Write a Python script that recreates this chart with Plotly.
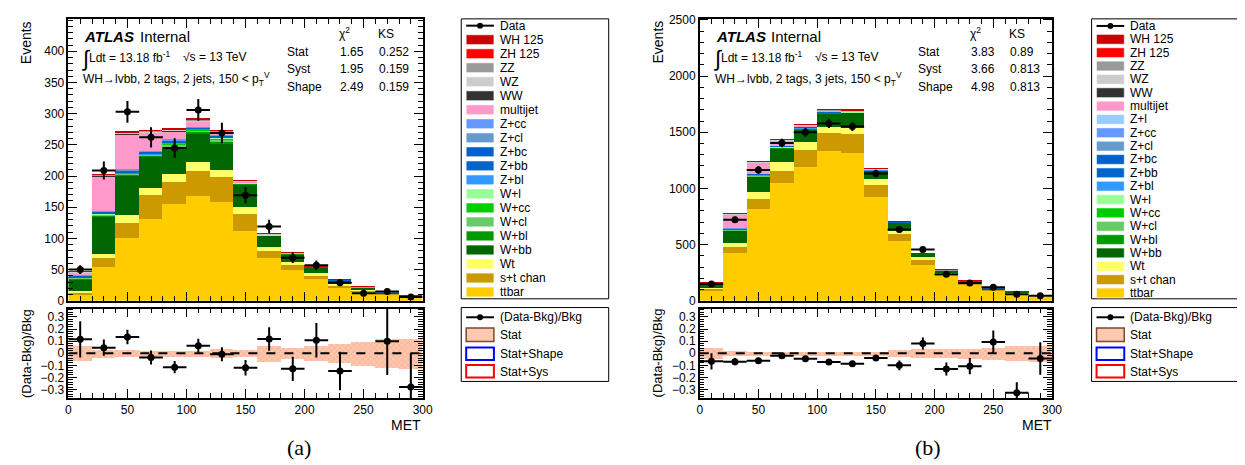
import plotly.graph_objects as go
import math

# ---------------- data ----------------
bin_edges = [0, 20, 40, 60, 80, 100, 120, 140, 160, 180, 200, 220, 240, 260, 280, 300]
bin_centers = [10, 30, 50, 70, 90, 110, 130, 150, 170, 190, 210, 230, 250, 270, 290]
half_width = [10] * 15

# 2 tags, 2 jets (panel a)
ttbar_2j = [11, 55, 101, 131, 155, 168, 158, 112, 69, 49, 35, 22, 15, 10, 6.5]
stchan_2j = [2, 14, 24, 39, 36, 40, 40, 27, 11.5, 8.5, 5, 2.5, 2, 1.5, 0.8]
Wt_2j = [2.5, 6, 13, 11, 13, 14, 12, 11, 6, 5, 4, 2.5, 2, 1, 0.5]
Wbb_2j = [18.5, 60, 63, 50, 41, 46, 42, 37, 18, 12.5, 9, 5, 3, 1.5, 0.5]
Wbl_2j = [2, 2, 2, 2, 3, 4, 4, 1, 0.5, 0.5, 0.4, 0.3, 0.2, 0.1, 0.1]
Wcl_2j = [1, 1, 1.5, 1, 2, 2, 3, 0.5, 0.3, 0.3, 0.2, 0.2, 0.1, 0.05, 0.05]
Wcc_2j = [0.5, 1, 1, 1, 2, 2, 2, 0.5, 0.3, 0.2, 0.2, 0.2, 0.1, 0.05, 0.05]
Wl_2j = [0.3, 0.5, 0.5, 0.3, 0.5, 0.5, 0.5, 0.2, 0.1, 0.1, 0.1, 0.1, 0.05, 0.05, 0.05]
Zbl_2j = [0.3, 0.5, 0.5, 0.5, 0.5, 0.3, 0.5, 0.2, 0.1, 0.1, 0.1, 0.1, 0.05, 0.05, 0.05]
Zbb_2j = [2.5, 2.5, 2.5, 3, 3.5, 1.5, 2, 0.5, 0.3, 0.3, 0.3, 0.6, 0.2, 0.1, 0.05]
Zbc_2j = [0.5, 0.5, 0.5, 0.5, 0.5, 0.3, 0.5, 0.1, 0.1, 0.05, 0.05, 0.1, 0.05, 0.02, 0.02]
Zcl_2j = [0.3, 0.5, 0.5, 0.5, 0.7, 0.3, 0.5, 0.2, 0.1, 0.05, 0.05, 0.1, 0.05, 0.02, 0.02]
Zcc_2j = [0.5, 0.5, 1, 1, 1.5, 0.5, 1, 0.2, 0.1, 0.05, 0.05, 0.1, 0.05, 0.02, 0.02]
multijet_2j = [4, 56, 56.5, 29.5, 13, 8, 4, 1, 0.5, 0.5, 1, 0.2, 0.3, 0.2, 0.2]
WW_2j = [0.1, 0.3, 0.3, 0.3, 0.3, 0.3, 0.3, 0.2, 0.1, 0.05, 0.05, 0.05, 0.02, 0.02, 0.02]
WZ_2j = [0.5, 1.2, 1.5, 1.7, 2, 2, 1.5, 0.8, 0.5, 0.4, 0.3, 0.2, 0.1, 0.05, 0.05]
ZZ_2j = [0.2, 0.5, 0.5, 0.6, 0.8, 0.8, 0.8, 0.3, 0.2, 0.1, 0.1, 0.1, 0.05, 0.02, 0.02]
ZH_2j = [0.1, 0.3, 0.3, 0.3, 0.3, 0.3, 0.3, 0.1, 0.1, 0.05, 0.05, 0.05, 0.02, 0.02, 0.02]
WH_2j = [0.2, 0.8, 0.8, 0.8, 1, 1.2, 1, 0.5, 0.3, 0.2, 0.15, 0.1, 0.05, 0.03, 0.03]
data_2j = [50, 209, 303, 262, 245, 306, 269, 169, 119, 69, 57, 29, 12, 15, 6]

ratio_2j = [0.115, 0.046, 0.134, -0.035, -0.115, 0.062, -0.008, -0.12, 0.118, -0.129, 0.107, -0.147, None, 0.099, -0.28]
ratio_err_2j = [0.15, 0.067, 0.06, 0.058, 0.05, 0.058, 0.058, 0.064, 0.098, 0.1, 0.143, 0.16, None, 0.28, 0.28]
stat_2j = [0.06, 0.033, 0.027, 0.025, 0.025, 0.025, 0.035, 0.03, 0.067, 0.047, 0.06, 0.077, 0.1, 0.12, 0.125]

# 2 tags, 3 jets (panel b)
ttbar_3j = [87, 427, 822, 1047, 1191, 1335, 1318, 923, 534, 317, 222, 144, 90, 63, 40]
stchan_3j = [20, 55, 86, 107, 150, 162, 167, 109, 63, 43, 20, 13, 9, 6, 3]
Wt_3j = [8, 37, 64, 83, 78, 52, 58, 49, 29, 29, 10, 6, 5, 4, 1.5]
Wbb_3j = [38, 107, 133, 124, 109, 121, 130, 78, 70, 30, 18, 12, 9, 9, 1.5]
Wbl_3j = [2, 4, 6, 5, 5, 4, 4, 3, 2, 1, 1, 0.5, 0.5, 0.5, 0.2]
Wcl_3j = [1, 2, 3, 2, 2, 2, 2, 1, 1, 0.5, 0.5, 0.3, 0.3, 0.3, 0.1]
Wcc_3j = [1, 2, 3, 2, 2, 2, 2, 1, 1, 0.5, 0.5, 0.3, 0.3, 0.3, 0.1]
Wl_3j = [0.5, 1, 2, 1, 1, 1, 1, 1, 0.5, 0.3, 0.2, 0.2, 0.2, 0.2, 0.1]
Zbl_3j = [0.3, 1, 2, 2, 2, 1, 1, 1, 0.5, 0.3, 0.2, 0.2, 0.2, 0.2, 0.1]
Zbb_3j = [1, 8, 8, 8, 8, 5, 3, 2, 1.5, 1, 0.5, 0.5, 0.5, 0.5, 0.2]
Zbc_3j = [0.2, 2, 2, 2, 2, 1, 1, 0.5, 0.3, 0.2, 0.1, 0.1, 0.1, 0.1, 0.05]
Zcl_3j = [0.2, 2, 1, 1, 1, 1, 1, 0.5, 0.3, 0.2, 0.1, 0.1, 0.1, 0.1, 0.05]
Zcc_3j = [0.2, 1, 1, 1, 1, 1, 0.5, 0.5, 0.3, 0.2, 0.1, 0.1, 0.1, 0.1, 0.05]
Zl_3j = [0.1, 1, 0.5, 0.5, 0.5, 0.5, 0.5, 0.3, 0.2, 0.1, 0.1, 0.1, 0.05, 0.05, 0.05]
multijet_3j = [2, 121, 100, 45, 12, 6, 3, 2, 2, 1, 0.5, 0.5, 0.5, 0.5, 0.5]
WW_3j = [0.2, 1, 1, 1, 1, 1, 1, 0.5, 0.3, 0.2, 0.2, 0.1, 0.1, 0.1, 0.05]
WZ_3j = [0.5, 4, 4, 4, 4, 4, 3.5, 2.5, 1.5, 1, 0.8, 0.5, 0.4, 0.3, 0.1]
ZZ_3j = [0.2, 1.5, 1.5, 1.5, 1.5, 1.5, 1.5, 1, 0.5, 0.3, 0.3, 0.2, 0.1, 0.1, 0.05]
ZH_3j = [0.1, 0.5, 0.5, 0.5, 0.5, 0.5, 0.5, 0.3, 0.2, 0.1, 0.1, 0.05, 0.05, 0.05, 0.02]
WH_3j = [0.3, 2, 2.5, 2.5, 2.5, 2, 2, 1.2, 0.8, 0.5, 0.4, 0.3, 0.2, 0.2, 0.1]
data_3j = [150, 721, 1165, 1405, 1500, 1578, 1552, 1133, 634, 456, 237, 159, 121, 57, 44]

ratio_3j = [-0.067, -0.07, -0.062, -0.021, -0.045, -0.072, -0.086, -0.04, -0.1, 0.08, -0.13, -0.107, 0.094, -0.327, -0.043]
ratio_err_3j = [0.067, 0.03, 0.025, 0.025, 0.02, 0.02, 0.02, 0.025, 0.04, 0.05, 0.054, 0.067, 0.094, 0.086, 0.134]
stat_3j = [0.047, 0.022, 0.015, 0.015, 0.015, 0.015, 0.015, 0.015, 0.027, 0.035, 0.037, 0.04, 0.05, 0.06, 0.067]

# fit-quality tables
chi2_2j = ["1.65", "1.95", "2.49"]
ks_2j = ["0.252", "0.159", "0.159"]
chi2_3j = ["3.83", "3.66", "4.98"]
ks_3j = ["0.89", "0.813", "0.813"]
table_rows = ["Stat", "Syst", "Shape"]

# axis tick values
x_ticks = [0, 50, 100, 150, 200, 250, 300]
y_ticks_2j = [0, 50, 100, 150, 200, 250, 300, 350, 400]
y_ticks_3j = [0, 500, 1000, 1500, 2000, 2500]
ratio_ticks = [-0.3, -0.2, -0.1, 0, 0.1, 0.2, 0.3]

# sample names / colours (stack order bottom -> top)
sample_colors = {
    "ttbar": "#FFCC00", "s+t chan": "#CC9900", "Wt": "#FFFF66",
    "W+bb": "#006600", "W+bl": "#009900", "W+cl": "#66CC66", "W+cc": "#00CC00", "W+l": "#99FF99",
    "Z+bl": "#3399FF", "Z+bb": "#0066CC", "Z+bc": "#0062C8", "Z+cl": "#6699CC", "Z+cc": "#6699FF",
    "Z+l": "#99CCFF", "multijet": "#FF99CC", "WW": "#333333", "WZ": "#CCCCCC", "ZZ": "#999999",
    "ZH 125": "#FF0000", "WH 125": "#CC0000",
}

stack_2j = [("ttbar", ttbar_2j), ("s+t chan", stchan_2j), ("Wt", Wt_2j), ("W+bb", Wbb_2j),
            ("W+bl", Wbl_2j), ("W+cl", Wcl_2j), ("W+cc", Wcc_2j), ("W+l", Wl_2j),
            ("Z+bl", Zbl_2j), ("Z+bb", Zbb_2j), ("Z+bc", Zbc_2j), ("Z+cl", Zcl_2j), ("Z+cc", Zcc_2j),
            ("multijet", multijet_2j), ("WW", WW_2j), ("WZ", WZ_2j), ("ZZ", ZZ_2j),
            ("ZH 125", ZH_2j), ("WH 125", WH_2j)]
stack_3j = [("ttbar", ttbar_3j), ("s+t chan", stchan_3j), ("Wt", Wt_3j), ("W+bb", Wbb_3j),
            ("W+bl", Wbl_3j), ("W+cl", Wcl_3j), ("W+cc", Wcc_3j), ("W+l", Wl_3j),
            ("Z+bl", Zbl_3j), ("Z+bb", Zbb_3j), ("Z+bc", Zbc_3j), ("Z+cl", Zcl_3j), ("Z+cc", Zcc_3j),
            ("Z+l", Zl_3j), ("multijet", multijet_3j), ("WW", WW_3j), ("WZ", WZ_3j), ("ZZ", ZZ_3j),
            ("ZH 125", ZH_3j), ("WH 125", WH_3j)]

# ---------------- layout helpers ----------------
W, H = 1245, 465
FONT = "Liberation Sans, Arial, Helvetica, sans-serif"
SERIF = "Liberation Serif, DejaVu Serif, serif"


def px(x):
    return x / W


def py(y):
    return 1 - y / H


fig = go.Figure()
annotations = []
shapes = []


def ann(text, x, y, size=12, xanchor="left", yanchor="middle", **kw):
    annotations.append(dict(text=text, x=px(x), y=py(y), xref="paper", yref="paper",
                            showarrow=False, xanchor=xanchor, yanchor=yanchor,
                            font=dict(family=kw.pop("family", FONT), size=size, color="black"), **kw))


def rect(x0, y0, x1, y1, fill="rgba(0,0,0,0)", line="black", lw=1):
    shapes.append(dict(type="rect", xref="paper", yref="paper", x0=px(x0), x1=px(x1),
                       y0=py(y1), y1=py(y0), fillcolor=fill, line=dict(color=line, width=lw), layer="above"))


STAT_FILL = "rgb(252,200,176)"
STAT_FG = "rgb(255,150,110)"

panels = [
    dict(stack=stack_2j, data=data_2j, ratio=ratio_2j, rerr=ratio_err_2j, stat=stat_2j,
         xa="x", ya="y", xr="x2", yr="y2"),
    dict(stack=stack_3j, data=data_3j, ratio=ratio_3j, rerr=ratio_err_3j, stat=stat_3j,
         xa="x3", ya="y3", xr="x4", yr="y4"),
]

for p in panels:
    for name, vals in p["stack"]:
        fig.add_trace(go.Bar(x=bin_centers, y=vals, width=20, name=name,
                             marker=dict(color=sample_colors[name], line=dict(width=0)),
                             xaxis=p["xa"], yaxis=p["ya"], showlegend=False, hoverinfo="skip"))
    fig.add_trace(go.Scatter(x=bin_centers, y=p["data"], mode="markers", name="Data",
                             marker=dict(color="black", size=7),
                             error_y=dict(type="data", array=[math.sqrt(v) for v in p["data"]],
                                          color="black", thickness=2, width=0),
                             error_x=dict(type="data", array=half_width, color="black", thickness=2, width=0),
                             xaxis=p["xa"], yaxis=p["ya"], showlegend=False))
    # ratio stat band
    fig.add_trace(go.Bar(x=bin_centers, y=[2 * s for s in p["stat"]], base=[-s for s in p["stat"]],
                         width=20, marker=dict(color=STAT_FILL, line=dict(width=0),
                                               pattern=dict(shape="x", size=4, solidity=0.35,
                                                            fgcolor=STAT_FG, bgcolor=STAT_FILL)),
                         xaxis=p["xr"], yaxis=p["yr"], showlegend=False, hoverinfo="skip"))
    fig.add_trace(go.Scatter(x=bin_centers, y=p["ratio"], mode="markers",
                             marker=dict(color="black", size=7),
                             error_y=dict(type="data", array=[e if e is not None else 0 for e in p["rerr"]],
                                          color="black", thickness=2, width=0),
                             error_x=dict(type="data", array=half_width, color="black", thickness=2, width=0),
                             xaxis=p["xr"], yaxis=p["yr"], showlegend=False))
    shapes.append(dict(type="line", xref=p["xr"], yref=p["yr"], x0=0, x1=300, y0=0, y1=0,
                       line=dict(color="black", width=2, dash="dash"), layer="above"))


def axis(domain, anchor, rng, tickvals, mdtick, labels=True):
    d = dict(domain=domain, anchor=anchor, range=rng, showline=True, linecolor="black", linewidth=1.5,
             mirror="allticks", ticks="inside", ticklen=9, tickwidth=1.2, tickcolor="black",
             tickmode="array", tickvals=tickvals, showticklabels=labels, showgrid=False, zeroline=False,
             tickfont=dict(family=FONT, size=12, color="black"),
             minor=dict(ticks="inside", ticklen=5, dtick=mdtick, tick0=0, tickcolor="black",
                        tickwidth=1, showgrid=False))
    if labels:
        d["ticklabeloverflow"] = "allow"
    return d


top_y = [py(295), py(5)]
rat_y = [py(395), py(303)]
left_x = [px(58), px(416)]
right_x = [px(696), px(1052)]

layout_axes = dict(
    xaxis=axis(left_x, "y", [0, 300], x_ticks, 10, labels=False),
    yaxis=axis(top_y, "x", [0, 452], y_ticks_2j, 10),
    xaxis2=axis(left_x, "y2", [0, 300], x_ticks, 10),
    yaxis2=axis(rat_y, "x2", [-0.37, 0.37], ratio_ticks, 0.02),
    xaxis3=axis(right_x, "y3", [0, 300], x_ticks, 10, labels=False),
    yaxis3=axis(top_y, "x3", [0, 2510], y_ticks_3j, 100),
    xaxis4=axis(right_x, "y4", [0, 300], x_ticks, 10),
    yaxis4=axis(rat_y, "x4", [-0.37, 0.37], ratio_ticks, 0.02),
)

# ---------------- texts ----------------
for dx, region, chi2, ks in [(0, "2 jets", chi2_2j, ks_2j), (638, "3 jets", chi2_3j, ks_3j)]:
    ann("<b><i>ATLAS</i></b>", 72 + dx, 23, size=15)
    ann("Internal", 128 + dx, 23, size=15)
    ann("\u222b", 69 + dx, 46, size=22)
    ann("Ldt = 13.18 fb<sup>-1</sup>", 77 + dx, 44, size=12)
    ann("\u221as = 13 TeV", 172 + dx, 44, size=12)
    ann("WH\u2192lvbb, 2 tags, " + region + ", 150 < p<sub>T</sub><sup>V</sup>", 71 + dx, 67, size=12)
    ann("\u03c7<sup>2</sup>", 329 + dx, 20, size=12)
    ann("KS", 369 + dx, 21, size=12)
    for r, row in enumerate(table_rows):
        yy = 39 + 18 * r
        ann(row, 277 + dx, yy, size=12)
        ann(chi2[r], 330 + dx, yy, size=12)
        ann(ks[r], 370 + dx, yy, size=12)
    ann("Events", 16 + dx, 5, size=14, xanchor="center", yanchor="top", textangle=-90)
    ann("(Data-Bkg)/Bkg", 15 + dx, 349, size=13, xanchor="center", yanchor="middle", textangle=-90)
    ann("MET", 416 + dx, 423, size=14, xanchor="right")

ann("(a)", 291, 446, size=22, xanchor="center", family=SERIF)
ann("(b)", 927, 446, size=22, xanchor="center", family=SERIF)

# ---------------- legends (drawn manually) ----------------
legend_2j = ["Data", "WH 125", "ZH 125", "ZZ", "WZ", "WW", "multijet", "Z+cc", "Z+cl", "Z+bc",
             "Z+bb", "Z+bl", "W+l", "W+cc", "W+cl", "W+bl", "W+bb", "Wt", "s+t chan", "ttbar"]
legend_3j = ["Data", "WH 125", "ZH 125", "ZZ", "WZ", "WW", "multijet", "Z+l", "Z+cc", "Z+cl", "Z+bc",
             "Z+bb", "Z+bl", "W+l", "W+cc", "W+cl", "W+bl", "W+bb", "Wt", "s+t chan", "ttbar"]


def draw_legend(names, bx0, bx1, y_first, y_last, sx0, sx1, tx):
    rect(bx0, 5, bx1, 293)
    n = len(names)
    step = (y_last - y_first) / (n - 1)
    for k, nm in enumerate(names):
        yy = y_first + k * step
        if nm == "Data":
            shapes.append(dict(type="line", xref="paper", yref="paper", x0=px(sx0), x1=px(sx1),
                               y0=py(yy), y1=py(yy), line=dict(color="black", width=2)))
            cx = (sx0 + sx1) / 2
            shapes.append(dict(type="circle", xref="paper", yref="paper", x0=px(cx - 3), x1=px(cx + 3),
                               y0=py(yy + 3), y1=py(yy - 3), fillcolor="black", line=dict(width=0)))
        else:
            rect(sx0, yy - 5, sx1, yy + 5, fill=sample_colors[nm], line="white", lw=0.5)
        ann(nm, tx, yy, size=12)


draw_legend(legend_2j, 455, 604, 12, 286, 460, 488, 492)
draw_legend(legend_3j, 1092, 1242, 12.3, 287, 1097, 1125, 1129)


def ratio_legend(bx0, bx1):
    rect(bx0, 302, bx1, 378)
    sx0, sx1, tx = bx0 + 5, bx0 + 33, bx0 + 37
    shapes.append(dict(type="line", xref="paper", yref="paper", x0=px(sx0), x1=px(sx1),
                       y0=py(312), y1=py(312), line=dict(color="black", width=2)))
    cx = (sx0 + sx1) / 2
    shapes.append(dict(type="circle", xref="paper", yref="paper", x0=px(cx - 3), x1=px(cx + 3),
                       y0=py(315), y1=py(309), fillcolor="black", line=dict(width=0)))
    ann("(Data-Bkg)/Bkg", tx, 312, size=12)
    rect(sx0, 323, sx1, 337, fill=STAT_FILL, line="#7a4a30", lw=1.5)
    ann("Stat", tx, 330, size=12)
    rect(sx0, 343, sx1, 356, fill="white", line="#0000FF", lw=2)
    ann("Stat+Shape", tx, 350, size=12)
    rect(sx0, 361, sx1, 374, fill="white", line="#FF0000", lw=2)
    ann("Stat+Sys", tx, 368, size=12)


ratio_legend(455, 604)
ratio_legend(1092, 1242)

fig.update_layout(
    width=W, height=H, autosize=False,
    margin=dict(l=0, r=0, t=0, b=0),
    paper_bgcolor="white", plot_bgcolor="white",
    barmode="stack", bargap=0,
    showlegend=False,
    annotations=annotations, shapes=shapes,
    font=dict(family=FONT, size=12, color="black"),
    **layout_axes,
)

fig.write_html("out.html")
